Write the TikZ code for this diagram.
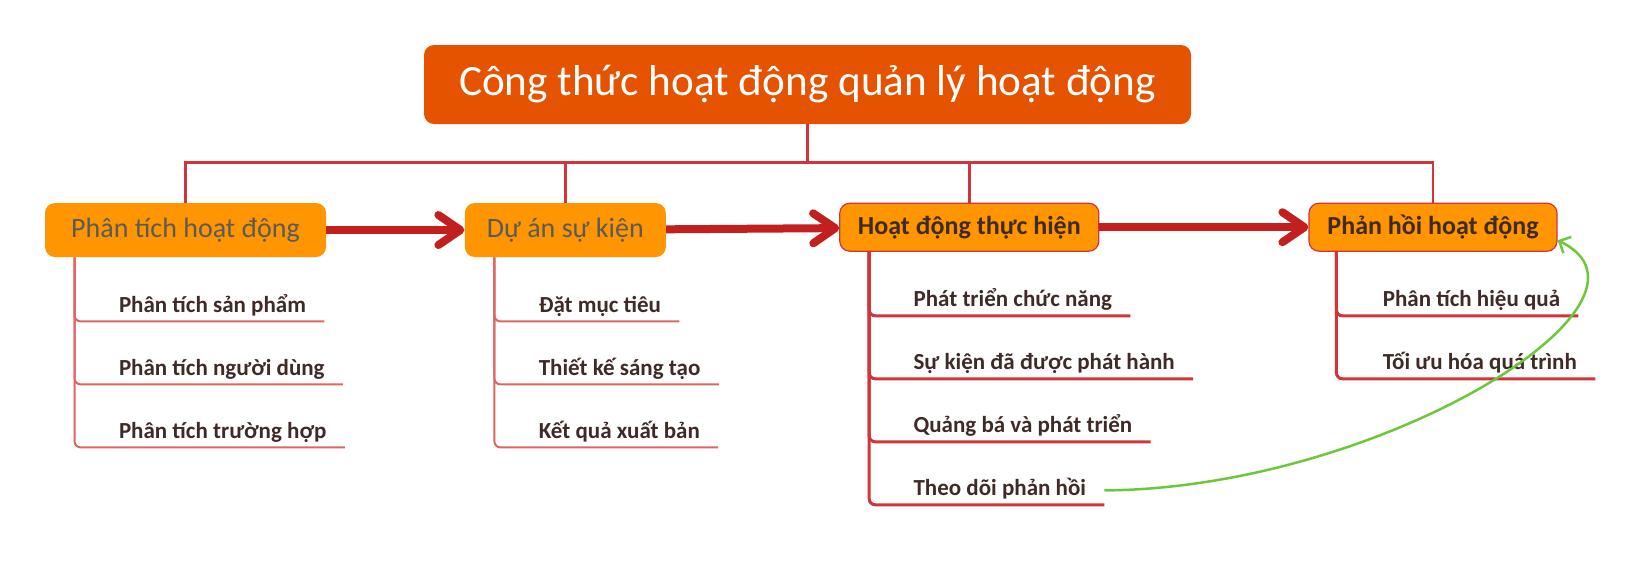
\documentclass[tikz,border=0pt]{standalone}
\usepackage{fontspec}
\setmainfont{Carlito}
\usetikzlibrary{arrows.meta, positioning}
\definecolor{RootOrange}{HTML}{E55300}
\definecolor{TopicOrange}{HTML}{FF9500}
\definecolor{LinkRed}{HTML}{D2343A}
\definecolor{FlowRed}{HTML}{C21F1F}
\definecolor{TwigRed}{HTML}{E06464}
\definecolor{TextBrown}{HTML}{3F2A26}
\definecolor{TextGray}{HTML}{5A5A5A}
\definecolor{LoopGreen}{HTML}{6CC83A}

\begin{document}
\begin{tikzpicture}[x=1pt, y=1pt,
        root/.style={rectangle, fill=RootOrange, rounded corners=5pt, text=white, font=\fontsize{21.6}{24}\selectfont, minimum width=383.5pt, minimum height=39.5pt, inner sep=0pt},
        topic/.style={rectangle, fill=TopicOrange, rounded corners=5pt, text=TextGray, font=\fontsize{14}{16}\selectfont, minimum height=27pt, inner sep=0pt},
        task/.style={topic, draw=LinkRed, line width=0.6pt, text=TextBrown, font=\bfseries\fontsize{13}{15}\selectfont, minimum height=24pt},
        leaf/.style={inner xsep=9pt, inner ysep=1.5pt, text height=8pt, text depth=3pt, text=TextBrown, font=\bfseries\fontsize{11.5}{13}\selectfont},
        trunk/.style={LinkRed, line width=1.3pt},
        twig/.style={TwigRed, line width=1pt, rounded corners=3pt},
        branch/.style={LinkRed, line width=1.5pt, rounded corners=3pt},
        flow/.style={FlowRed, line width=4pt, -{Straight Barb[length=11pt, width=15pt, round]}},
        loop/.style={LoopGreen, line width=1.25pt, -{Straight Barb[length=4.5pt, width=9pt]}}]

        \useasboundingbox (0,0) rectangle (818.5,-282);

        \node[root] (root) at (403.75,-42.25) {Công thức hoạt động quản lý hoạt động};

        \node[topic, minimum width=140.5pt] (b1) at (92.75,-115) {Phân tích hoạt động};
        \node[topic, minimum width=100.5pt, right=69pt of b1.north east, anchor=north west] (b2) {Dự án sự kiện};
        \node[task, minimum width=129.5pt, right=86.5pt of b2.north east, anchor=north west] (b3) {Hoạt động thực hiện};
        \node[task, minimum width=124pt, right=104.5pt of b3.north east, anchor=north west] (b4) {Phản hồi hoạt động};

        \draw[trunk] (root.south) -- ++(0,-19.5);
        \draw[trunk] (b1.north) -- ++(0,20) -| (b4.north);
        \draw[trunk] (b2.north) -- ++(0,20);
        \draw[trunk] (b3.north) -- ++(0,20);

        \draw[flow] (b1) -- (b2);
        \draw[flow] (b2) -- (b3);
        \draw[flow] (b3) -- (b4);

        \node[leaf, below right=32pt and 28pt of b1.south west, anchor=south west] (a1) {Phân tích sản phẩm};
        \node[leaf, below=31.5pt of a1.south west, anchor=south west] (a2) {Phân tích người dùng};
        \node[leaf, below=31.5pt of a2.south west, anchor=south west] (a3) {Phân tích trường hợp};

        \node[leaf, below right=32pt and 28pt of b2.south west, anchor=south west] (d1) {Đặt mục tiêu};
        \node[leaf, below=31.5pt of d1.south west, anchor=south west] (d2) {Thiết kế sáng tạo};
        \node[leaf, below=31.5pt of d2.south west, anchor=south west] (d3) {Kết quả xuất bản};

        \node[leaf, below right=32pt and 28pt of b3.south west, anchor=south west] (c1) {Phát triển chức năng};
        \node[leaf, below=31.5pt of c1.south west, anchor=south west] (c2) {Sự kiện đã được phát hành};
        \node[leaf, below=31.5pt of c2.south west, anchor=south west] (c3) {Quảng bá và phát triển};
        \node[leaf, below=31.5pt of c3.south west, anchor=south west] (c4) {Theo dõi phản hồi};

        \node[leaf, below right=32pt and 28pt of b4.south west, anchor=south west] (f1) {Phân tích hiệu quả};
        \node[leaf, below=31.5pt of f1.south west, anchor=south west] (f2) {Tối ưu hóa quá trình};

        \foreach \n in {a1,a2,a3} \draw[twig] ([xshift=15pt]b1.south west) |- (\n.south east);
        \foreach \n in {d1,d2,d3} \draw[twig] ([xshift=15pt]b2.south west) |- (\n.south east);
        \foreach \n in {c1,c2,c3,c4} \draw[branch] ([xshift=15pt]b3.south west) |- (\n.south east);
        \foreach \n in {f1,f2} \draw[branch] ([xshift=14pt]b4.south west) |- (\n.south east);

        \draw[loop] (c4.east) .. controls +(138.5,1) and +(62,-30) .. (b4.-6);
    \end{tikzpicture}
\end{document}
